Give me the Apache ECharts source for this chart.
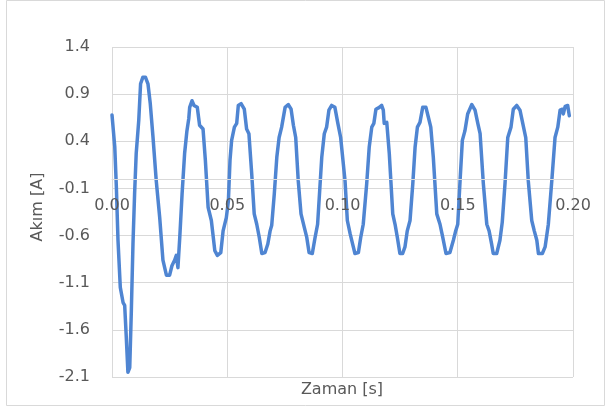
<!DOCTYPE html>
<html>
<head>
<meta charset="utf-8">
<script src="https://cdn.jsdelivr.net/npm/echarts@6/dist/echarts.min.js"></script>
<style>html,body{margin:0;padding:0;background:#fff}#c{width:610px;height:410px}</style>
</head>
<body>
<div id="c"></div>
<script>
const xTitle = "Zaman [s]";
const yTitle = "Akım [A]";
const time = [0.0000,0.0012,0.0019,0.0026,0.0036,0.0048,0.0055,0.0062,0.0069,0.0077,0.0084,0.0091,0.0098,0.0105,0.0116,0.0124,0.0134,0.0145,0.0156,0.0166,0.0178,0.0192,0.0207,0.0221,0.0236,0.0250,0.0260,0.0272,0.0279,0.0286,0.0294,0.0304,0.0315,0.0325,0.0333,0.0337,0.0347,0.0356,0.0370,0.0380,0.0395,0.0405,0.0417,0.0431,0.0446,0.0457,0.0472,0.0482,0.0496,0.0505,0.0512,0.0519,0.0531,0.0541,0.0548,0.0560,0.0574,0.0584,0.0594,0.0606,0.0617,0.0628,0.0639,0.0650,0.0664,0.0676,0.0686,0.0693,0.0704,0.0715,0.0725,0.0736,0.0751,0.0765,0.0777,0.0787,0.0797,0.0808,0.0820,0.0834,0.0845,0.0855,0.0869,0.0881,0.0892,0.0910,0.0921,0.0931,0.0941,0.0953,0.0967,0.0979,0.0992,0.1011,0.1021,0.1033,0.1044,0.1054,0.1069,0.1079,0.1090,0.1105,0.1116,0.1127,0.1136,0.1145,0.1160,0.1170,0.1177,0.1181,0.1192,0.1203,0.1218,0.1228,0.1238,0.1249,0.1261,0.1271,0.1281,0.1293,0.1305,0.1315,0.1325,0.1336,0.1348,0.1362,0.1372,0.1383,0.1394,0.1409,0.1423,0.1435,0.1449,0.1466,0.1481,0.1490,0.1500,0.1510,0.1520,0.1531,0.1543,0.1561,0.1575,0.1587,0.1597,0.1611,0.1626,0.1636,0.1647,0.1654,0.1669,0.1683,0.1693,0.1705,0.1717,0.1731,0.1741,0.1756,0.1770,0.1782,0.1795,0.1806,0.1821,0.1832,0.1843,0.1850,0.1867,0.1879,0.1893,0.1908,0.1922,0.1934,0.1944,0.1954,0.1958,0.1966,0.1977,0.1984];
const current = [0.68,0.34,-0.09,-0.65,-1.15,-1.31,-1.34,-1.68,-2.05,-2.00,-1.39,-0.69,-0.16,0.27,0.62,1.01,1.08,1.08,1.01,0.80,0.44,-0.02,-0.41,-0.86,-1.02,-1.02,-0.92,-0.86,-0.81,-0.94,-0.62,-0.16,0.27,0.51,0.64,0.76,0.83,0.78,0.76,0.57,0.53,0.20,-0.30,-0.44,-0.76,-0.81,-0.78,-0.55,-0.41,-0.23,0.20,0.41,0.55,0.59,0.78,0.80,0.74,0.53,0.48,0.06,-0.37,-0.48,-0.62,-0.79,-0.78,-0.69,-0.55,-0.49,-0.16,0.23,0.44,0.55,0.76,0.79,0.74,0.57,0.44,-0.02,-0.37,-0.51,-0.62,-0.78,-0.79,-0.62,-0.48,0.23,0.48,0.55,0.73,0.78,0.76,0.60,0.44,-0.02,-0.44,-0.58,-0.69,-0.79,-0.78,-0.62,-0.48,-0.05,0.34,0.55,0.59,0.74,0.76,0.78,0.73,0.59,0.60,0.27,-0.37,-0.48,-0.62,-0.79,-0.79,-0.72,-0.55,-0.44,-0.05,0.34,0.55,0.60,0.76,0.76,0.66,0.55,0.23,-0.37,-0.48,-0.62,-0.79,-0.78,-0.65,-0.56,-0.48,-0.02,0.41,0.51,0.69,0.79,0.73,0.59,0.48,-0.05,-0.48,-0.55,-0.69,-0.79,-0.79,-0.65,-0.46,-0.05,0.44,0.55,0.74,0.78,0.73,0.59,0.44,-0.02,-0.44,-0.55,-0.65,-0.79,-0.79,-0.72,-0.48,-0.02,0.44,0.55,0.73,0.74,0.69,0.77,0.78,0.67];
const xMin = 0, xMax = 0.20, xStep = 0.05;
const yMin = -2.1, yMax = 1.4, yStep = 0.5;

const points = time.map((t, i) => [t, current[i]]);
const gridH = 330;
// move the labelled axis up so that it crosses the y axis at zero
const zeroOffset = -gridH * (0 - yMin) / (yMax - yMin);
const chart = echarts.init(document.getElementById('c'), null, {renderer: 'canvas'});
const font = 'DejaVu Sans, sans-serif';
const txt = '#595959';
const fs = 16;
chart.setOption({
  animation: false,
  backgroundColor: '#fff',
  grid: {left: 112, top: 47, width: 461, height: gridH, containLabel: false},
  xAxis: [{
    type: 'value', min: xMin, max: xMax, interval: xStep, position: 'bottom',
    axisLine: {show: false, onZero: false}, axisTick: {show: false}, axisLabel: {show: false},
    splitLine: {show: true, lineStyle: {color: '#d9d9d9', width: 1}}
  }, {
    type: 'value', min: xMin, max: xMax, interval: xStep, position: 'bottom', offset: zeroOffset, z: 10,
    axisLine: {show: true, onZero: false, lineStyle: {color: '#d9d9d9', width: 1}},
    axisTick: {show: false},
    axisLabel: {color: txt, fontSize: fs, fontFamily: font, margin: 19, formatter: v => v.toFixed(2)},
    splitLine: {show: false}
  }],
  yAxis: {
    type: 'value', min: yMin, max: yMax, interval: yStep,
    axisLine: {show: false, onZero: false}, axisTick: {show: false},
    axisLabel: {color: txt, fontSize: fs, fontFamily: font, margin: 22, formatter: v => v.toFixed(1)},
    splitLine: {show: true, lineStyle: {color: '#d9d9d9', width: 1}}
  },
  graphic: [
    {type: 'rect', shape: {x: 6.5, y: 0.5, width: 598, height: 405}, style: {fill: null, stroke: '#d9d9d9', lineWidth: 1}, silent: true, z: -1},
    {type: 'text', x: 342, y: 390, style: {text: xTitle, fill: txt, fontSize: fs, fontFamily: font, textAlign: 'center', textVerticalAlign: 'middle'}},
    {type: 'text', x: 38, y: 207, rotation: Math.PI / 2, style: {text: yTitle, fill: txt, fontSize: fs, fontFamily: font, textAlign: 'center', textVerticalAlign: 'middle'}}
  ],
  series: [{
    type: 'line', xAxisIndex: 0, data: points, showSymbol: false, smooth: false,
    lineStyle: {color: '#4f85d2', width: 3.5, join: 'round', cap: 'round'},
    itemStyle: {color: '#4f85d2'}
  }]
});
</script>
</body>
</html>
